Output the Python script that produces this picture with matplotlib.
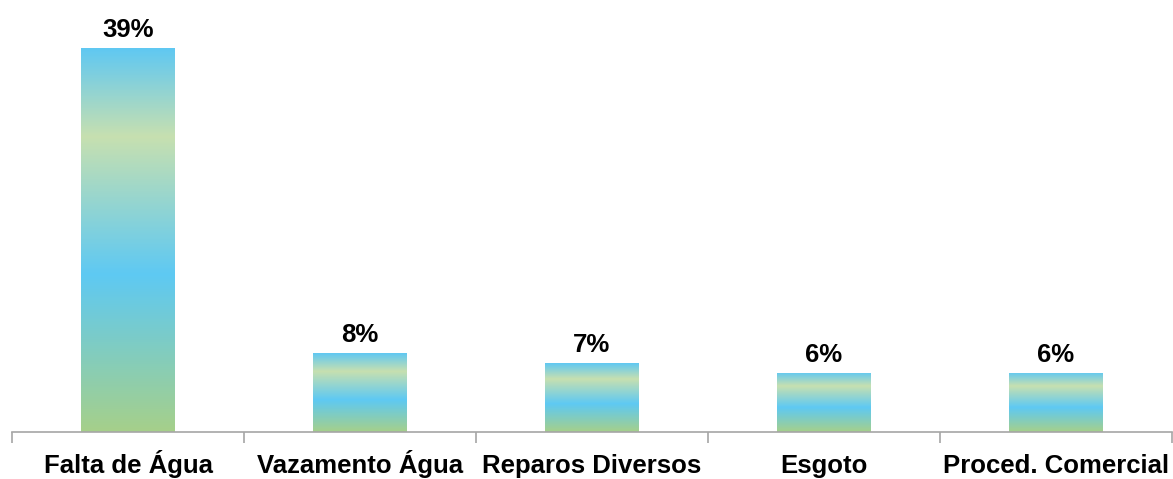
import matplotlib
matplotlib.use("Agg")
import matplotlib.pyplot as plt
import numpy as np
from matplotlib.colors import LinearSegmentedColormap

categories = ["Falta de Água", "Vazamento Água", "Reparos Diversos", "Esgoto", "Proced. Comercial"]
values = [39, 8, 7, 6, 6]
labels = ["39%", "8%", "7%", "6%", "6%"]

plt.rcParams['font.family'] = ['Liberation Sans', 'DejaVu Sans']

fig = plt.figure(figsize=(11.73, 4.79), dpi=100)
ax = fig.add_axes([12/1173, 47/479, 1160/1173, 432/479])

cmap = LinearSegmentedColormap.from_list("grad", [
    (0.0, "#a6d08a"), (0.41, "#5ec9f3"), (0.77, "#c7e0b0"), (1.0, "#60c8f2")])

x = np.arange(len(categories))
bars = ax.bar(x, values, width=0.405, color="none", edgecolor="none")
grad = np.linspace(0, 1, 256).reshape(-1, 1)
for b in bars:
    x0, y0 = b.get_x(), b.get_y()
    w, h = b.get_width(), b.get_height()
    im = ax.imshow(grad, cmap=cmap, origin="lower", aspect="auto",
                   extent=[x0, x0 + w, y0, y0 + h], zorder=2)
    im.set_clip_path(b)

for xi, v, lab in zip(x, values, labels):
    ax.annotate(lab, (xi, v), xytext=(0, 8), textcoords="offset points",
                ha="center", va="baseline", fontsize=18.5, fontweight="bold", color="#000000")

tr = ax.get_xaxis_transform()
for xi, cat in zip(x, categories):
    ax.text(xi, -41/432, cat, transform=tr, ha="center", va="baseline",
            fontsize=18.5, fontweight="bold", color="#000000", clip_on=False)

ax.set_xlim(-0.5, len(categories) - 0.5)
ax.set_ylim(0, 432 / (384 / 39))
for s in ["top", "right", "left"]:
    ax.spines[s].set_visible(False)
ax.spines["bottom"].set_color("#a6a6a6")
ax.spines["bottom"].set_linewidth(1.2)
ax.set_yticks([])
ax.set_xticks(np.arange(-0.5, len(categories), 1.0))
ax.set_xticklabels([])
ax.tick_params(axis="x", which="major", length=8, color="#a6a6a6", width=1.2, direction="out")

fig.savefig("out.png", dpi=100)
